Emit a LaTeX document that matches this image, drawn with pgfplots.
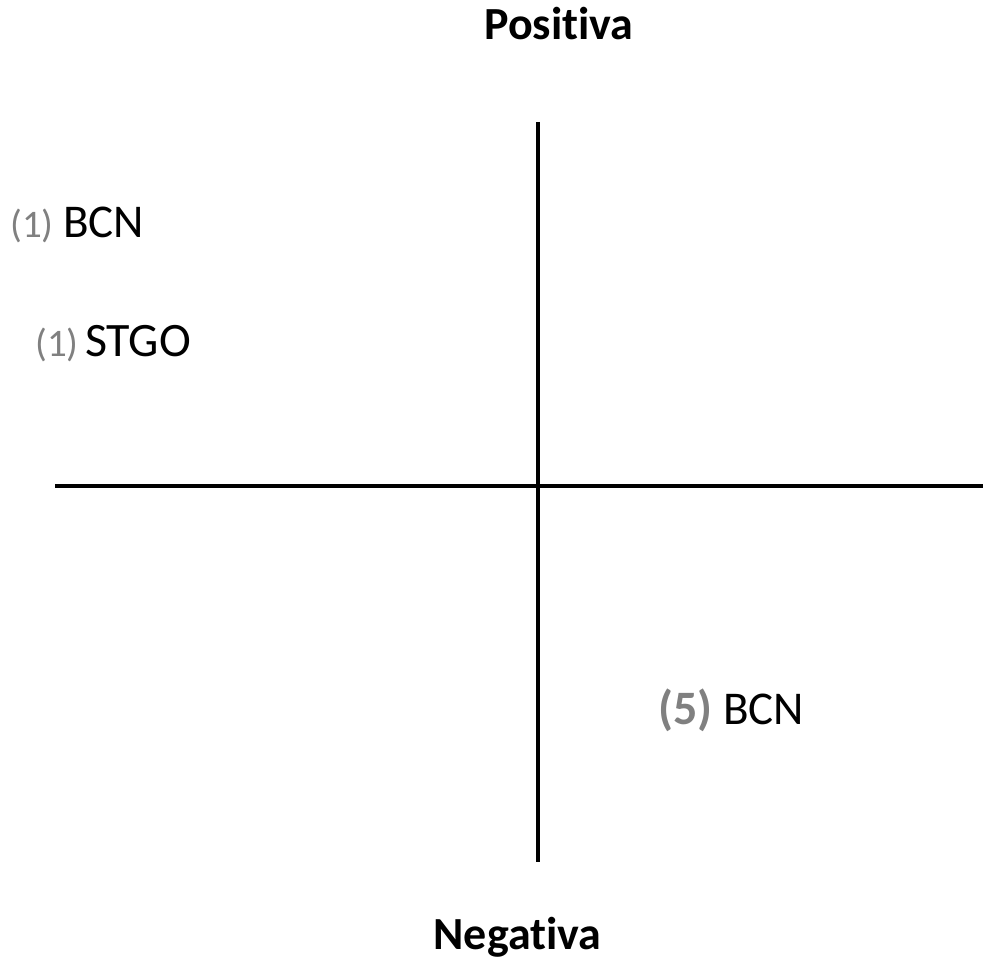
\documentclass[border=0pt]{standalone}
\usepackage{pgfplots}
\pgfplotsset{compat=1.18}
\usepackage{fontspec}
\setmainfont{Carlito}[Ligatures={NoCommon}]
\definecolor{lblgray}{HTML}{808080}
\begin{document}
\begin{tikzpicture}
\begin{axis}[
  scale only axis, width=996pt, height=960pt,
  xmin=0, xmax=996, ymin=0, ymax=960,
  hide axis, clip=false,
]
\addplot[draw=none, forget plot] coordinates {(0,0) (996,960)};
% quadrant axes
\addplot[black, line width=3.5pt] coordinates {(538,838) (538,98)};
\addplot[black, line width=3.5pt] coordinates {(55,474) (983,474)};
% titles
\node[anchor=base, inner sep=0pt, font=\fontsize{46}{52}\selectfont\bfseries] at (axis cs:559,920) {Positiva};
\node[anchor=base, inner sep=0pt, font=\fontsize{46}{52}\selectfont\bfseries] at (axis cs:517.5,10) {Negativa};
% labels
\node[anchor=base west, inner sep=0pt, text=lblgray, font=\fontsize{39}{44}\selectfont] at (axis cs:10,722) {(1)};
\node[anchor=base west, inner sep=0pt, font=\fontsize{47}{54}\selectfont] at (axis cs:63,722) {BCN};
\node[anchor=base west, inner sep=0pt, text=lblgray, font=\fontsize{39}{44}\selectfont] at (axis cs:35,603) {(1)};
\node[anchor=base west, inner sep=0pt, font=\fontsize{48}{54}\selectfont] at (axis cs:85,603) {STGO};
\node[anchor=base west, inner sep=0pt, text=lblgray, font=\fontsize{48}{54}\selectfont\bfseries] at (axis cs:658,235) {(5)};
\node[anchor=base west, inner sep=0pt, font=\fontsize{47}{54}\selectfont] at (axis cs:723,235) {BCN};
\end{axis}
\end{tikzpicture}
\end{document}
